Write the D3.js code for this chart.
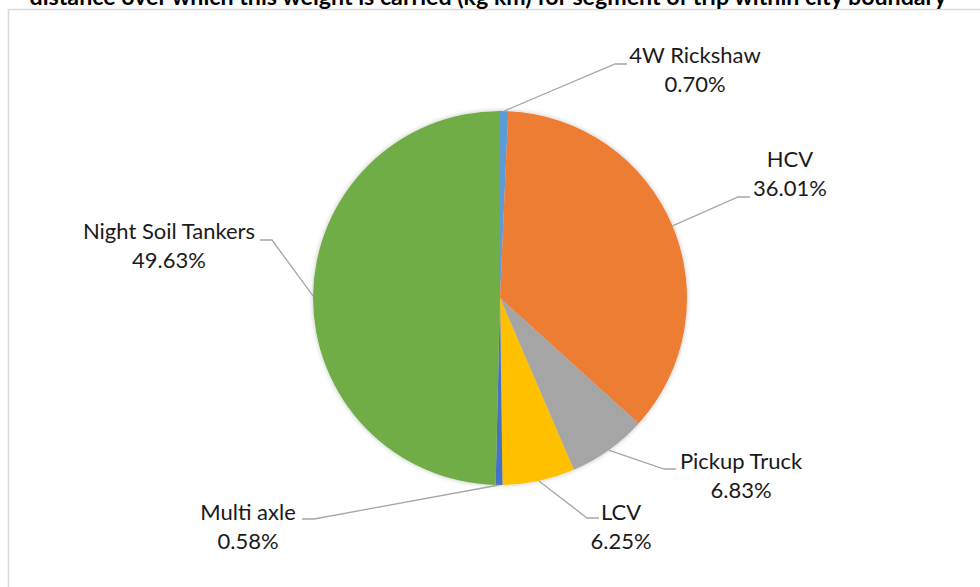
<!DOCTYPE html>
<html>
<head>
<meta charset="utf-8">
<script src="https://cdn.jsdelivr.net/npm/d3@7/dist/d3.min.js"></script>
<style>
  body { margin: 0; background: #fff; }
  svg { display: block; font-family: Lato, "Open Sans", sans-serif; }
</style>
</head>
<body>
<div id="chart"></div>
<script>
// slice data, clockwise from 12 o'clock
const categories = ["4W Rickshaw", "HCV", "Pickup Truck", "LCV", "Multi axle", "Night Soil Tankers"];
const shares = [0.70, 36.01, 6.83, 6.25, 0.58, 49.63];
const sliceColors = ["#5B9BD5", "#ED7D31", "#A5A5A5", "#FFC000", "#4472C4", "#70AD47"];

const titleText = "distance over which this weight is carried (kg km) for segment of trip within city boundary";

// label placement (text centre x, first line baseline y, leader end point)
const labelLayout = [
  { tx: 695, ty: 63,  ex: 627, ey: 64 },
  { tx: 790, ty: 167, ex: 750, ey: 197 },
  { tx: 741, ty: 469, ex: 676, ey: 469 },
  { tx: 621, ty: 520, ex: 599, ey: 518 },
  { tx: 248, ty: 520, ex: 302, ey: 519 },
  { tx: 169, ty: 239, ex: 260, ey: 240 }
];

const width = 980, height = 587;
const cx = 500, cy = 298, radius = 187;

const svg = d3.select("#chart").append("svg")
    .attr("width", width)
    .attr("height", height);

// soft shadow round the pie
const defs = svg.append("defs");
const shadow = defs.append("filter").attr("id", "pieShadow")
    .attr("x", "-10%").attr("y", "-10%").attr("width", "120%").attr("height", "120%");
shadow.append("feGaussianBlur").attr("in", "SourceAlpha").attr("stdDeviation", 2.5);
shadow.append("feComponentTransfer").append("feFuncA").attr("type", "linear").attr("slope", 0.25);
const merge = shadow.append("feMerge");
merge.append("feMergeNode");
merge.append("feMergeNode").attr("in", "SourceGraphic");

// chart frame (right and bottom edges fall outside the picture)
svg.append("rect")
    .attr("x", 8.5).attr("y", 9.5)
    .attr("width", 1000).attr("height", 600)
    .attr("fill", "none")
    .attr("stroke", "#D9D9D9")
    .attr("stroke-width", 1.5);

// title, clipped by the top of the picture
svg.append("text")
    .attr("x", 488).attr("y", 5)
    .attr("text-anchor", "middle")
    .attr("font-weight", "bold")
    .attr("font-size", 23.2)
    .attr("fill", "#000")
    .text(titleText);

const data = categories.map((c, i) => ({ name: c, value: shares[i], color: sliceColors[i], layout: labelLayout[i] }));

const pie = d3.pie().sort(null).value(d => d.value);
const arc = d3.arc().innerRadius(0).outerRadius(radius);
const arcs = pie(data);

const g = svg.append("g").attr("transform", `translate(${cx},${cy})`);

g.append("g").attr("filter", "url(#pieShadow)")
  .selectAll("path")
  .data(arcs)
  .enter().append("path")
    .attr("d", arc)
    .attr("fill", d => d.data.color);

// leader lines: slice edge at mid angle -> elbow -> label
const leaders = svg.append("g");
arcs.forEach(a => {
    const mid = (a.startAngle + a.endAngle) / 2;
    const sx = cx + radius * Math.sin(mid);
    const sy = cy - radius * Math.cos(mid);
    const L = a.data.layout;
    const elbowX = L.ex < sx ? L.ex + 12 : L.ex - 12;
    leaders.append("polyline")
        .attr("points", [[sx, sy], [elbowX, L.ey], [L.ex, L.ey]].map(p => p.join(",")).join(" "))
        .attr("fill", "none")
        .attr("stroke", "#A6A6A6")
        .attr("stroke-width", 1.3);
});

// labels
const fmt = d3.format(".2f");
const labels = svg.append("g")
  .selectAll("text")
  .data(arcs)
  .enter().append("text")
    .attr("text-anchor", "middle")
    .attr("font-size", 22)
    .attr("fill", "#1a1a1a");
labels.append("tspan")
    .attr("x", d => d.data.layout.tx)
    .attr("y", d => d.data.layout.ty)
    .text(d => d.data.name);
labels.append("tspan")
    .attr("x", d => d.data.layout.tx)
    .attr("y", d => d.data.layout.ty + 29)
    .text(d => fmt(d.data.value) + "%");
</script>
</body>
</html>
